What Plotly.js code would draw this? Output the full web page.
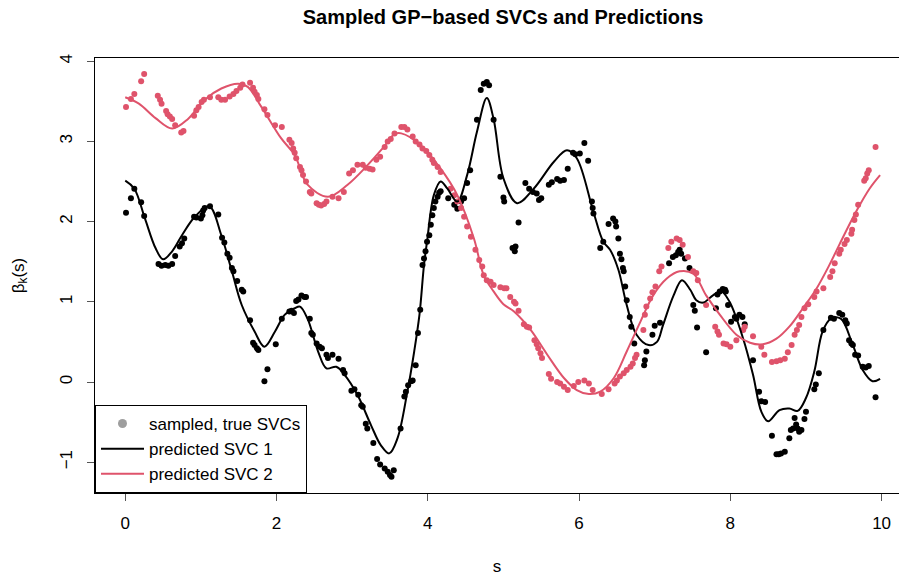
<!DOCTYPE html>
<html>
<head>
<meta charset="utf-8">
<script src="https://cdn.plot.ly/plotly-3.0.1.min.js"></script>
<style>html,body{margin:0;padding:0;background:#fff;}#chart{width:899px;height:576px;}</style>
</head>
<body>
<div id="chart"></div>
<script>
// Sampled true SVC 1 (black points)
const sampleS1 = [0.01,0.075,0.12,0.21,0.25,0.44,0.48,0.53,0.57,0.62,0.66,0.72,0.75,0.78,0.91,0.94,1.00,1.02,1.03,1.05,1.12,1.23,1.28,1.31,1.35,1.38,1.41,1.43,1.48,1.54,1.56,1.65,1.69,1.71,1.74,1.76,1.84,1.88,1.99,2.07,2.17,2.20,2.23,2.26,2.29,2.33,2.37,2.39,2.44,2.46,2.48,2.53,2.57,2.60,2.66,2.68,2.74,2.82,2.88,2.90,2.99,3.03,3.08,3.12,3.14,3.18,3.20,3.28,3.33,3.37,3.43,3.47,3.50,3.52,3.55,3.64,3.69,3.71,3.74,3.78,3.80,3.84,3.87,3.90,3.93,3.95,3.97,3.99,4.02,4.04,4.06,4.08,4.10,4.13,4.15,4.17,4.27,4.35,4.39,4.44,4.48,4.52,4.56,4.65,4.70,4.74,4.78,4.81,4.87,4.96,5.00,5.01,5.12,5.15,5.16,5.20,5.29,5.34,5.39,5.44,5.47,5.50,5.60,5.64,5.71,5.75,5.80,5.85,5.92,5.95,6.01,6.07,6.12,6.17,6.18,6.19,6.28,6.32,6.39,6.45,6.48,6.49,6.52,6.54,6.56,6.58,6.59,6.61,6.63,6.67,6.69,6.73,6.86,6.87,6.89,6.97,7.00,7.07,7.19,7.24,7.28,7.31,7.33,7.35,7.40,7.46,7.51,7.53,7.56,7.68,7.81,7.83,7.86,7.90,7.93,7.94,7.97,8.01,8.06,8.08,8.12,8.16,8.19,8.30,8.38,8.41,8.46,8.55,8.61,8.64,8.67,8.72,8.78,8.80,8.83,8.85,8.87,8.89,8.91,8.94,8.98,9.00,9.11,9.13,9.17,9.23,9.33,9.37,9.44,9.48,9.52,9.54,9.57,9.60,9.62,9.65,9.69,9.75,9.79,9.83,9.92];
const sampleB1 = [2.11,2.29,2.41,2.24,2.07,1.47,1.45,1.46,1.45,1.47,1.57,1.69,1.73,1.79,2.06,2.05,2.04,2.08,2.14,2.17,2.19,2.09,1.80,1.74,1.60,1.55,1.42,1.38,1.26,1.15,1.13,0.77,0.49,0.46,0.42,0.40,0.01,0.16,0.47,0.79,0.88,0.89,0.86,1.01,1.03,1.08,1.06,1.06,0.79,0.61,0.59,0.48,0.44,0.42,0.34,0.30,0.34,0.29,0.15,0.11,-0.11,-0.09,-0.16,-0.29,-0.31,-0.52,-0.58,-0.76,-0.96,-1.03,-1.08,-1.12,-1.16,-1.18,-1.10,-0.58,-0.18,-0.12,-0.04,0.01,0.02,0.21,0.61,0.90,1.46,1.54,1.63,1.75,1.83,1.96,2.08,2.17,2.25,2.31,2.36,2.38,2.29,2.21,2.16,2.25,2.29,2.48,2.64,3.27,3.64,3.72,3.74,3.70,3.27,2.56,2.30,2.25,1.67,1.63,1.69,1.99,2.48,2.41,2.37,2.35,2.27,2.29,2.46,2.49,2.53,2.51,2.52,2.66,2.86,2.84,2.85,2.98,2.76,2.25,2.17,2.10,1.67,1.75,1.97,2.04,2.00,1.94,1.79,1.60,1.53,1.42,1.38,1.19,1.02,0.81,0.69,0.48,0.21,0.27,0.38,0.59,0.70,0.74,1.48,1.56,1.58,1.62,1.65,1.60,1.54,1.42,0.96,0.89,0.68,0.37,0.92,1.09,1.13,1.16,1.15,1.13,0.96,0.75,0.81,0.79,0.84,0.81,0.72,0.27,-0.12,-0.24,-0.25,-0.67,-0.90,-0.90,-0.89,-0.87,-0.70,-0.60,-0.58,-0.45,-0.53,-0.58,-0.62,-0.60,-0.46,-0.37,-0.09,-0.03,0.11,0.65,0.80,0.79,0.86,0.84,0.77,0.73,0.52,0.48,0.46,0.34,0.33,0.19,0.18,0.20,-0.19];

// Sampled true SVC 2 (red points)
const sampleS2 = [0.01,0.075,0.12,0.21,0.25,0.43,0.46,0.48,0.54,0.56,0.59,0.62,0.66,0.74,0.77,0.91,0.94,0.97,1.01,1.04,1.12,1.23,1.27,1.32,1.38,1.43,1.47,1.52,1.55,1.65,1.69,1.71,1.74,1.76,1.84,1.88,1.98,2.07,2.17,2.20,2.22,2.24,2.26,2.31,2.33,2.35,2.39,2.44,2.46,2.53,2.56,2.59,2.63,2.66,2.74,2.82,2.89,2.96,3.01,3.07,3.14,3.18,3.23,3.27,3.32,3.37,3.43,3.47,3.51,3.56,3.65,3.69,3.73,3.80,3.84,3.89,3.93,3.98,4.02,4.06,4.08,4.13,4.17,4.30,4.35,4.39,4.44,4.48,4.52,4.57,4.63,4.68,4.72,4.74,4.78,4.83,4.87,4.96,5.01,5.04,5.09,5.14,5.16,5.20,5.27,5.31,5.34,5.41,5.44,5.46,5.49,5.51,5.60,5.63,5.71,5.75,5.80,5.85,5.93,5.99,6.07,6.13,6.18,6.30,6.39,6.47,6.50,6.54,6.59,6.63,6.68,6.71,6.74,6.76,6.85,6.87,6.89,6.94,6.97,7.01,7.06,7.09,7.18,7.22,7.29,7.33,7.37,7.44,7.51,7.55,7.57,7.68,7.80,7.83,7.85,7.91,7.95,8.00,8.08,8.17,8.19,8.30,8.41,8.45,8.55,8.61,8.66,8.72,8.76,8.81,8.85,8.88,8.91,8.94,8.98,9.03,9.11,9.14,9.23,9.32,9.35,9.38,9.44,9.46,9.51,9.54,9.60,9.61,9.64,9.66,9.69,9.77,9.79,9.81,9.83,9.92];
const sampleB2 = [3.43,3.53,3.59,3.75,3.84,3.57,3.52,3.47,3.38,3.34,3.31,3.28,3.20,3.11,3.13,3.32,3.39,3.43,3.49,3.52,3.55,3.55,3.52,3.52,3.56,3.59,3.63,3.67,3.71,3.73,3.67,3.62,3.58,3.53,3.40,3.33,3.20,3.18,3.02,2.98,2.91,2.86,2.79,2.68,2.64,2.58,2.50,2.37,2.35,2.23,2.21,2.20,2.22,2.25,2.31,2.29,2.37,2.60,2.64,2.71,2.71,2.67,2.66,2.65,2.77,2.81,2.93,3.00,3.03,3.10,3.18,3.18,3.15,3.06,3.00,2.96,2.91,2.88,2.83,2.77,2.73,2.68,2.62,2.41,2.33,2.25,2.17,2.06,1.94,1.81,1.65,1.52,1.44,1.33,1.27,1.25,1.21,1.18,1.17,1.17,1.06,1.00,0.98,0.89,0.72,0.69,0.68,0.52,0.47,0.42,0.36,0.30,0.10,0.04,0.00,-0.02,-0.06,-0.10,-0.05,0.00,0.02,-0.02,-0.10,-0.15,-0.09,-0.02,0.02,0.07,0.11,0.15,0.19,0.23,0.30,0.34,0.65,0.84,0.94,1.04,1.12,1.19,1.38,1.44,1.67,1.75,1.79,1.77,1.71,1.56,1.38,1.36,1.27,0.96,0.69,0.63,0.59,0.48,0.47,0.44,0.52,0.65,0.69,0.57,0.44,0.34,0.25,0.26,0.27,0.29,0.37,0.46,0.59,0.65,0.71,0.81,0.92,0.97,1.06,1.13,1.17,1.31,1.38,1.48,1.60,1.65,1.72,1.77,1.85,1.90,2.02,2.09,2.21,2.51,2.54,2.60,2.64,2.93];

// Predicted SVC 1 (black line)
const predS1 = [0.00,0.12,0.26,0.40,0.50,0.62,0.75,0.92,1.11,1.27,1.41,1.54,1.71,1.84,1.98,2.11,2.24,2.31,2.41,2.55,2.66,2.79,2.90,3.07,3.25,3.38,3.49,3.60,3.73,3.82,3.89,3.95,3.99,4.08,4.17,4.26,4.39,4.52,4.65,4.78,4.87,5.00,5.18,5.40,5.67,5.84,5.97,6.19,6.32,6.41,6.52,6.63,6.76,6.92,7.03,7.11,7.25,7.36,7.47,7.55,7.64,7.77,7.88,7.99,8.17,8.30,8.41,8.50,8.65,8.78,8.89,9.00,9.11,9.22,9.33,9.46,9.62,9.75,9.88,9.98];
const pred1  = [2.51,2.41,2.04,1.67,1.53,1.63,1.83,2.06,2.19,1.83,1.38,0.96,0.63,0.44,0.63,0.84,0.92,0.94,0.79,0.38,0.17,0.19,0.09,-0.16,-0.54,-0.79,-0.89,-0.70,-0.12,0.38,0.84,1.46,1.75,2.33,2.50,2.41,2.25,2.58,3.12,3.54,3.28,2.54,2.23,2.41,2.75,2.89,2.79,2.12,1.75,1.65,1.40,0.96,0.59,0.46,0.50,0.71,1.08,1.27,1.15,1.02,0.99,1.08,1.13,1.00,0.54,0.09,-0.37,-0.49,-0.35,-0.33,-0.36,-0.20,0.13,0.63,0.79,0.79,0.46,0.15,0.01,0.04];

// Predicted SVC 2 (red line)
const predS2 = [0.00,0.18,0.40,0.62,0.83,1.05,1.27,1.49,1.62,1.80,2.06,2.24,2.41,2.68,2.94,3.21,3.40,3.56,3.65,3.91,4.17,4.39,4.61,4.74,4.87,5.00,5.14,5.36,5.58,5.80,5.97,6.13,6.28,6.46,6.63,6.81,6.98,7.16,7.33,7.51,7.68,7.86,8.08,8.26,8.43,8.61,8.78,8.96,9.13,9.31,9.44,9.66,9.84,9.98];
const pred2  = [3.55,3.47,3.29,3.16,3.28,3.52,3.66,3.72,3.68,3.43,3.04,2.83,2.46,2.31,2.46,2.71,2.91,3.09,3.10,2.95,2.66,2.33,1.79,1.33,1.13,0.97,0.88,0.65,0.34,0.05,-0.10,-0.15,-0.12,0.05,0.38,0.75,1.08,1.29,1.38,1.35,1.08,0.84,0.59,0.49,0.47,0.54,0.69,0.92,1.15,1.46,1.71,2.12,2.41,2.58];

const xTicks = [0,2,4,6,8,10];
const yTicks = [-1,0,1,2,3,4];

const RED = '#DF536B';
const FONT = '"Liberation Sans", Arial, Helvetica, sans-serif';

const traces = [
  {x: sampleS1, y: sampleB1, type: 'scatter', mode: 'markers',
   marker: {color: '#000000', size: 6}, showlegend: false, hoverinfo: 'x+y'},
  {x: sampleS2, y: sampleB2, type: 'scatter', mode: 'markers',
   marker: {color: RED, size: 6}, showlegend: false, hoverinfo: 'x+y'},
  {x: predS1, y: pred1, type: 'scatter', mode: 'lines', name: 'predicted SVC 1',
   line: {color: '#000000', width: 2, shape: 'spline', smoothing: 1}, showlegend: false},
  {x: predS2, y: pred2, type: 'scatter', mode: 'lines', name: 'predicted SVC 2',
   line: {color: RED, width: 2, shape: 'spline', smoothing: 1}, showlegend: false},
  // legend-only entries
  {x: [null], y: [null], type: 'scatter', mode: 'markers', name: 'sampled, true SVCs',
   marker: {color: '#9E9E9E', size: 9}},
  {x: [null], y: [null], type: 'scatter', mode: 'lines', name: 'predicted SVC 1',
   line: {color: '#000000', width: 2}},
  {x: [null], y: [null], type: 'scatter', mode: 'lines', name: 'predicted SVC 2',
   line: {color: RED, width: 2}}
];

const layout = {
  width: 899, height: 576,
  margin: {l: 95, r: 0, t: 58, b: 83, pad: 0},
  paper_bgcolor: '#ffffff', plot_bgcolor: '#ffffff',
  font: {family: FONT, size: 17, color: '#000000'},
  title: {text: 'Sampled GP\u2212based SVCs and Predictions',
          font: {family: FONT, size: 20, color: '#000000', weight: 'bold'},
          xref: 'paper', x: 0.5075, xanchor: 'center',
          yref: 'container', y: 0.970, yanchor: 'middle'},
  xaxis: {range: [-0.40, 10.23], tickvals: xTicks, ticktext: xTicks.map(String),
          showgrid: false, zeroline: false, showline: true, mirror: true,
          linecolor: '#000000', linewidth: 1,
          ticks: 'outside', ticklen: 7, tickwidth: 1, tickcolor: '#555555',
          tickfont: {family: FONT, size: 17, color: '#000000'},
          ticklabelstandoff: 8,
          title: {text: 's', font: {family: FONT, size: 17, color: '#000000'}, standoff: 28}},
  yaxis: {range: [-1.384, 4.04], tickvals: yTicks, ticktext: ['\u22121','0','1','2','3','4'],
          showgrid: false, zeroline: false, showline: true, mirror: false,
          linecolor: '#000000', linewidth: 1,
          ticks: 'outside', ticklen: 7, tickwidth: 1, tickcolor: '#555555',
          tickangle: -90,
          tickfont: {family: FONT, size: 17, color: '#000000'},
          ticklabelstandoff: 8,
          title: {text: '\u03b2<sub>k</sub>(s)', font: {family: FONT, size: 17, color: '#000000'}, standoff: 28}},
  legend: {x: 0, y: 0, xanchor: 'left', yanchor: 'bottom', xref: 'paper', yref: 'paper',
           bgcolor: '#ffffff', bordercolor: '#000000', borderwidth: 1,
           font: {family: FONT, size: 17, color: '#000000'},
           itemwidth: 43, tracegroupgap: 0, traceorder: 'normal'},
  showlegend: true
};

Plotly.newPlot('chart', traces, layout, {displayModeBar: false, staticPlot: true});
</script>
</body>
</html>
